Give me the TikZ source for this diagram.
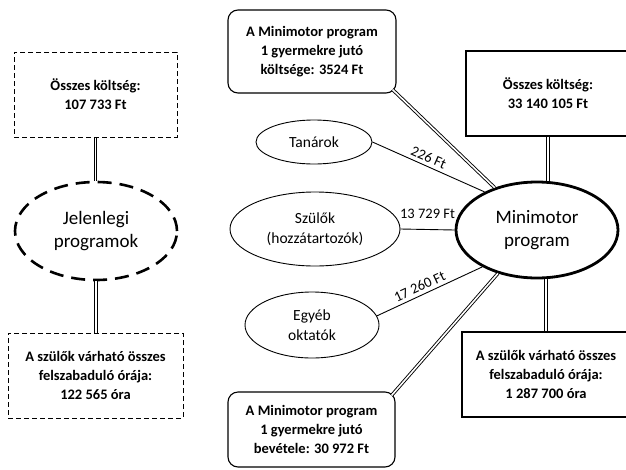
\documentclass[tikz,border=0pt]{standalone}
\usepackage{fontspec}
\setmainfont{Carlito}
\usepackage{tikz}
\usetikzlibrary{shapes.geometric}

\newcommand{\basefont}{\fontsize{14.5}{19}\selectfont}
\newcommand{\ovalfont}{\fontsize{15.5}{20}\selectfont}
\newcommand{\bigfont}{\fontsize{19}{23.5}\selectfont}

\tikzset{
  dashbox/.style = {draw, dash pattern = on 5pt off 3pt, line width = 1pt, align = center, font = \basefont\bfseries},
  roundbox/.style = {draw, rounded corners = 10pt, line width = 1.1pt, align = center, font = \basefont\bfseries},
  plainbox/.style = {draw, line width = 1.1pt, align = center, font = \basefont\bfseries},
  oval/.style = {draw, ellipse, line width = 0.9pt, align = center, inner sep = 0pt, font = \ovalfont},
  link/.style = {double, double distance = 1.6pt, line width = 0.9pt},
  flow/.style = {line width = 0.9pt}
}

\begin{document}
\begin{tikzpicture}[x = 1pt, y = -1pt, font = \basefont]

    \useasboundingbox[fill = white] (0,0) rectangle (626,469);

    % Left column
    \node[dashbox, minimum width = 163pt, minimum height = 85pt] (kolt1) at (95.5,94.5) {Összes költség:\\107 733 Ft};
    \node[oval, line width = 2.6pt, dash pattern = on 14pt off 8pt, minimum width = 162pt, minimum height = 98pt,
          font = \bigfont] (jelen) at (96,231) {Jelenlegi\\programok};
    \node[dashbox, minimum width = 175pt, minimum height = 85pt] (ora1) at (95.5,375.5) {A szülők várható összes\\felszabaduló órája:\\122 565 óra};

    \draw[link] (kolt1.south) -- (kolt1.south |- jelen.north);
    \draw[link] (jelen.south) -- (jelen.south |- ora1.north);


    % Minimotor program
    \node[oval, line width = 2.8pt, minimum width = 162pt, minimum height = 96pt,
          font = \bigfont] (mini) at (537,230) {Minimotor\\program};

    \node[roundbox, minimum width = 168pt, minimum height = 83pt] (mtop) at (312,51.5) {A Minimotor program\\1 gyermekre jutó\\költsége: 3524 Ft};
    \node[roundbox, minimum width = 167pt, minimum height = 75pt] (mbot) at (311.5,429.5) {A Minimotor program\\1 gyermekre jutó\\bevétele: 30 972 Ft};

    \node[plainbox, minimum width = 164pt, minimum height = 85pt] (koltr) at (548,93.5) {Összes költség:\\33 140 105 Ft};
    \node[plainbox, minimum width = 168pt, minimum height = 85pt] (orar) at (546,374.5) {A szülők várható összes\\felszabaduló órája:\\1 287 700 óra};

    \node[oval, minimum width = 116pt, minimum height = 44pt] (tanar) at (314,142) {Tanárok};
    \node[oval, minimum width = 170pt, minimum height = 74pt] (szulo) at (315,229) {Szülők\\(hozzátartozók)};
    \node[oval, minimum width = 134pt, minimum height = 66pt] (egyeb) at (312,325) {Egyéb\\oktatók};

    % Double connectors
    \draw[link] ([shift = {(-4,-4)}]mtop.south east) -- (mini.135);
    \draw[link] ([shift = {(-4,4)}]mbot.north east) -- (mini.228);
    \draw[link] (koltr.south) -- (koltr.south |- mini.north);
    \draw[link] (orar.north |- mini.south) -- (orar.north);

    % Contributions
    \draw[flow] (tanar.east) -- (mini.144) node[pos = 0.47, above, sloped] {226 Ft};
    \draw[flow] (szulo.east) -- (mini.west) node[midway, above = 7pt] {13 729 Ft};
    \draw[flow] (egyeb.8) -- (mini.214) node[pos = 0.44, above, sloped] {17 260 Ft};

\end{tikzpicture}
\end{document}
